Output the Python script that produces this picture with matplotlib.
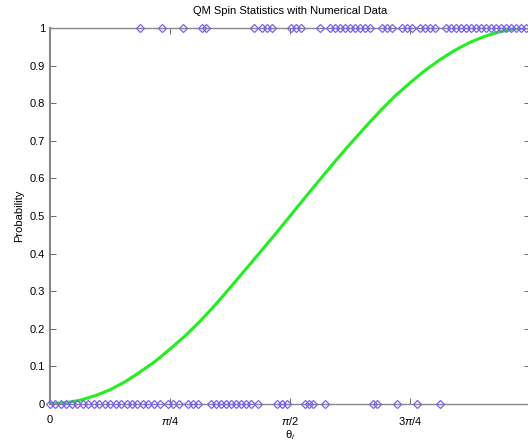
import numpy as np
import matplotlib
matplotlib.use('Agg')
import matplotlib.pyplot as plt

plt.rcParams['font.family'] = ['Liberation Sans', 'DejaVu Sans']
plt.rcParams['mathtext.fontset'] = 'custom'
plt.rcParams['mathtext.rm'] = 'Liberation Sans'
plt.rcParams['mathtext.it'] = 'Liberation Sans:italic'

theta_up = [0.589, 0.733, 0.870, 0.995, 1.021, 1.335, 1.388, 1.420, 1.453,
            1.577, 1.610, 1.643, 1.767, 1.833, 1.865, 1.898, 1.931, 1.964,
            1.996, 2.029, 2.062, 2.094, 2.173, 2.206, 2.238, 2.304, 2.337,
            2.369, 2.422, 2.454, 2.487, 2.520, 2.592, 2.625, 2.657, 2.690,
            2.723, 2.755, 2.788, 2.821, 2.854, 2.886, 2.919, 2.952, 2.985,
            3.017, 3.050, 3.083, 3.115]
theta_down = [0.000, 0.033, 0.072, 0.105, 0.144, 0.177, 0.216, 0.249, 0.288,
              0.321, 0.360, 0.393, 0.432, 0.465, 0.504, 0.537, 0.569, 0.609,
              0.641, 0.681, 0.720, 0.772, 0.805, 0.844, 0.903, 0.936, 0.969,
              1.054, 1.086, 1.119, 1.152, 1.185, 1.217, 1.250, 1.283, 1.316,
              1.361, 1.485, 1.518, 1.551, 1.669, 1.695, 1.721, 1.800, 2.114,
              2.140, 2.271, 2.402, 2.553]

# green probability curve
curve_theta = [0.000, 0.098, 0.196, 0.295, 0.393, 0.491, 0.589, 0.687, 0.785,
               0.884, 0.982, 1.080, 1.178, 1.276, 1.374, 1.473, 1.571, 1.669,
               1.767, 1.865, 1.963, 2.062, 2.160, 2.258, 2.356, 2.454, 2.553,
               2.651, 2.749, 2.847, 2.945, 3.044, 3.142]
curve_prob = [0.000, 0.003, 0.010, 0.022, 0.038, 0.059, 0.085, 0.113, 0.146,
              0.181, 0.220, 0.263, 0.309, 0.356, 0.403, 0.451, 0.500, 0.549,
              0.597, 0.645, 0.691, 0.736, 0.779, 0.819, 0.854, 0.887, 0.916,
              0.941, 0.962, 0.978, 0.990, 0.998, 1.000]

tick_pos = [0, np.pi / 4, np.pi / 2, 3 * np.pi / 4]
tick_lab = ['0', r'$\pi$/4', r'$\pi$/2', r'3$\pi$/4']

fig = plt.figure(figsize=(5.28, 4.44), dpi=100)
ax = fig.add_axes([50 / 528, 1 - 404 / 444, 480 / 528, 376 / 444])

ax.plot(curve_theta, curve_prob, color='#22ee22', linewidth=2.2, zorder=2)
mk = dict(marker='D', markersize=4.3, markerfacecolor='none',
          markeredgecolor='#7a62f0', markeredgewidth=0.9, linestyle='none',
          clip_on=False, zorder=3)
ax.plot(theta_up, np.ones(len(theta_up)), **mk)
ax.plot(theta_down, np.zeros(len(theta_down)), **mk)

ax.set_xlim(0, np.pi)
ax.set_ylim(0, 1)
ax.set_xticks(tick_pos)
ax.set_xticklabels(tick_lab)
ax.set_yticks(np.arange(0, 1.01, 0.1))
ax.set_yticklabels(['0', '0.1', '0.2', '0.3', '0.4', '0.5', '0.6', '0.7',
                    '0.8', '0.9', '1'])
ax.tick_params(direction='in', length=4, width=0.6, labelsize=8,
               top=True, right=True, colors='#555555', labelcolor='black')
ax.tick_params(axis='x', pad=8)

for s in ax.spines.values():
    s.set_color('#888888')
    s.set_linewidth(1.0)
ax.spines['left'].set_linewidth(1.5)

ax.set_title('QM Spin Statistics with Numerical Data', fontsize=8, pad=10)
ax.set_ylabel('Probability', fontsize=8, labelpad=4)
ax.set_xlabel(r'$\mathrm{\theta}_i$', fontsize=8, labelpad=1)

fig.savefig('out.png', dpi=100)
